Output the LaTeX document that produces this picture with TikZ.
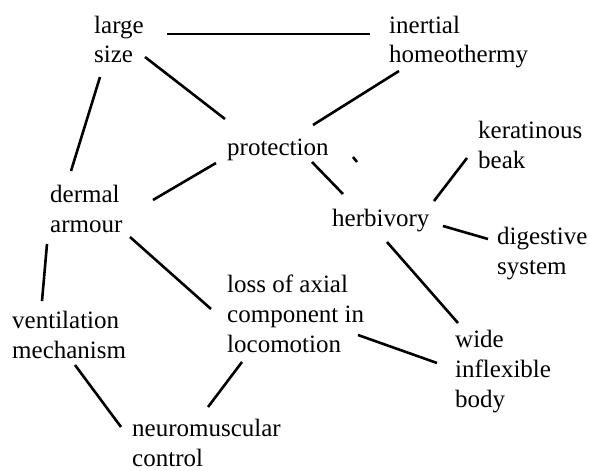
\documentclass[tikz,border=0pt]{standalone}
\usepackage{fontspec}
\setmainfont{Liberation Serif}
\begin{document}
\begin{tikzpicture}[x=1pt,y=-1pt,
  lbl/.style={anchor=base west,inner sep=0pt,align=left,font=\rmfamily\fontsize{25}{30}\selectfont},
  link/.style={line width=2.6pt}]
\useasboundingbox (0,0) rectangle (590,471);
% text nodes (anchored at the baseline of the last line)
\node[lbl] (large) at (94,63) {large\\size};
\node[lbl] (inertial) at (389,63) {inertial\\homeothermy};
\node[lbl] (protection) at (227,155) {protection};
\node[lbl] (keratinous) at (478,168) {keratinous\\beak};
\node[lbl] (dermal) at (50,232) {dermal\\armour};
\node[lbl] (herbivory) at (332,226) {herbivory};
\node[lbl] (digestive) at (497,274) {digestive\\system};
\node[lbl] (loss) at (227,352) {loss of axial\\component in\\locomotion};
\node[lbl] (ventilation) at (12,358) {ventilation\\mechanism};
\node[lbl] (wide) at (455,407) {wide\\inflexible\\body};
\node[lbl] (neuro) at (132,466) {neuromuscular\\control};
% connector end points
\coordinate (a1) at (167,34);  \coordinate (a2) at (370,34);
\coordinate (b1) at (145,57);  \coordinate (b2) at (225,119);
\coordinate (c1) at (100,77);  \coordinate (c2) at (71,171);
\coordinate (d1) at (216,163); \coordinate (d2) at (153,200);
\coordinate (e1) at (399,71);  \coordinate (e2) at (313,125);
\coordinate (f1) at (312,162); \coordinate (f2) at (343,194);
\coordinate (g1) at (353,157); \coordinate (g2) at (357,162);
\coordinate (h1) at (434,201); \coordinate (h2) at (467,158);
\coordinate (i1) at (443,226); \coordinate (i2) at (488,239);
\coordinate (j1) at (387,242); \coordinate (j2) at (458,323);
\coordinate (k1) at (130,237); \coordinate (k2) at (211,309);
\coordinate (l1) at (47,244);  \coordinate (l2) at (42,301);
\coordinate (m1) at (75,365);  \coordinate (m2) at (121,427);
\coordinate (n1) at (242,362); \coordinate (n2) at (208,407);
\coordinate (o1) at (358,335); \coordinate (o2) at (437,363);
% connectors
\draw[link] (a1) -- (a2);
\draw[link] (b1) -- (b2);
\draw[link] (c1) -- (c2);
\draw[link] (d1) -- (d2);
\draw[link] (e1) -- (e2);
\draw[link] (f1) -- (f2);
\draw[link] (g1) -- (g2);
\draw[link] (h1) -- (h2);
\draw[link] (i1) -- (i2);
\draw[link] (j1) -- (j2);
\draw[link] (k1) -- (k2);
\draw[link] (l1) -- (l2);
\draw[link] (m1) -- (m2);
\draw[link] (n1) -- (n2);
\draw[link] (o1) -- (o2);
\end{tikzpicture}
\end{document}
